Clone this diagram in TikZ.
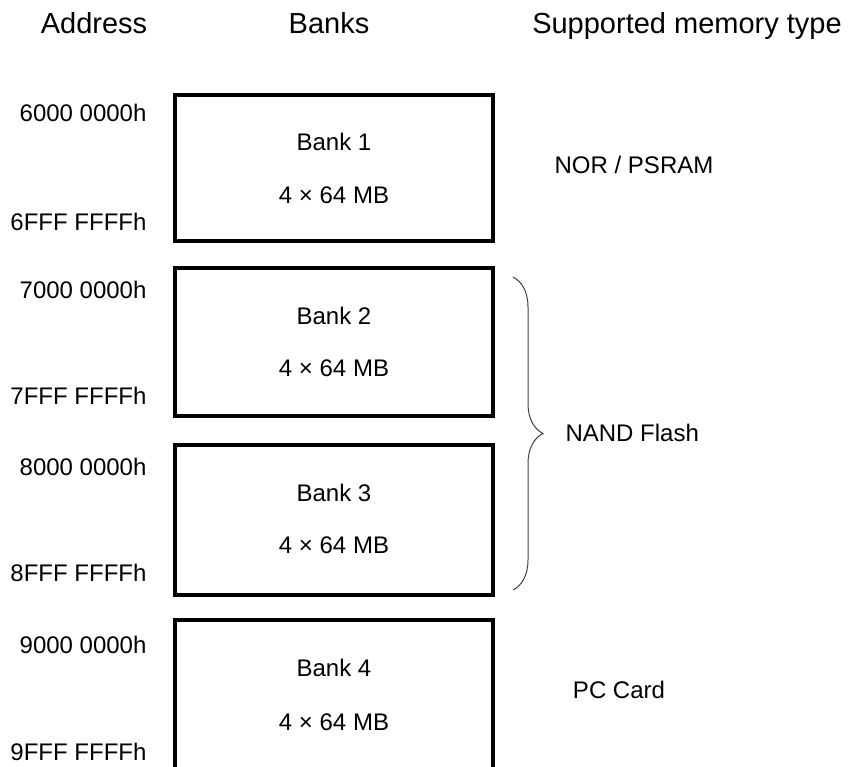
\documentclass[tikz,border=0pt]{standalone}
\usepackage{fontspec}
\setmainfont{Liberation Sans}
\usetikzlibrary{decorations.pathreplacing}

\begin{document}
\begin{tikzpicture}[x=1pt, y=-1pt,
    bank/.style={draw, line width=4pt, minimum width=318pt, inner sep=0pt},
    addr/.style={anchor=east, font=\fontsize{24}{28}\selectfont},
    txt/.style={font=\fontsize{24}{28}\selectfont},
    head/.style={font=\fontsize{29}{34}\selectfont}]
    \useasboundingbox (0,0) rectangle (848,766);

    % column headings
    \node[head, anchor=base] (hAddr) at (94,33) {Address};
    \node[head, anchor=base] (hBanks) at (329,33) {Banks};
    \node[head, anchor=base] (hType) at (687,33) {Supported memory type};

    % the four banks
    \node[bank, minimum height=146pt] (bank1) at (334,168) {};
    \node[bank, minimum height=148pt] (bank2) at (334,342) {};
    \node[bank, minimum height=150pt] (bank3) at (334,520) {};
    \node[bank, minimum height=180pt] (bank4) at (334,710) {};

    \node[txt] (name1) at (334,142) {Bank 1};
    \node[txt] (size1) at (334,195) {4 × 64 MB};
    \node[txt] (name2) at (334,316) {Bank 2};
    \node[txt] (size2) at (334,368) {4 × 64 MB};
    \node[txt] (name3) at (334,493) {Bank 3};
    \node[txt] (size3) at (334,545) {4 × 64 MB};
    \node[txt] (name4) at (334,668) {Bank 4};
    \node[txt] (size4) at (334,722) {4 × 64 MB};

    % addresses
    \node[addr] (a1) at (150,113) {6000 0000h};
    \node[addr] (e1) at (150,222) {6FFF FFFFh};
    \node[addr] (a2) at (150,290) {7000 0000h};
    \node[addr] (e2) at (150,396) {7FFF FFFFh};
    \node[addr] (a3) at (150,467) {8000 0000h};
    \node[addr] (e3) at (150,573) {8FFF FFFFh};
    \node[addr] (a4) at (150,645) {9000 0000h};
    \node[addr] (e4) at (150,752) {9FFF FFFFh};

    % memory types
    \node[txt] (nor) at (634,165) {NOR / PSRAM};
    \coordinate (brTop) at (513,277);
    \coordinate (brBot) at (513,590);
    \draw[decorate, decoration={brace, amplitude=30pt}, line width=1pt, black!75] (brTop) -- (brBot);
    \node[txt, anchor=west] (nand) at (562,433) {NAND Flash};
    \node[txt] (pc) at (619,690) {PC Card};
\end{tikzpicture}
\end{document}
